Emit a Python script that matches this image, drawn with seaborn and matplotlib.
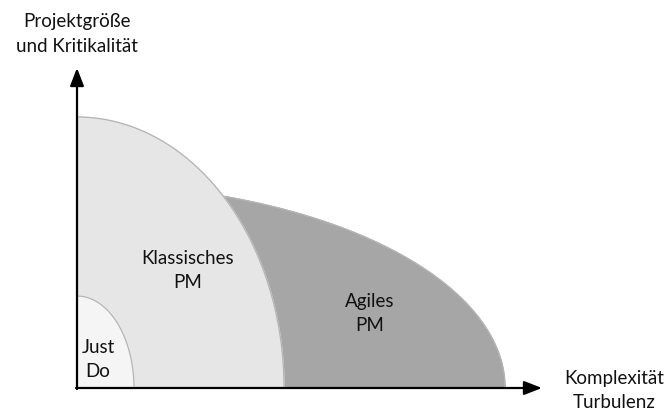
import numpy as np
import matplotlib.pyplot as plt
import seaborn as sns

# Bereiche (Viertel-Ellipsen), von groß nach klein gezeichnet
regions = ['Agiles\nPM', 'Klassisches\nPM', 'Just\nDo']
radius_x = [428, 207, 57]
radius_y = [204, 271, 92]
colors = ['#a6a6a6', '#e6e6e6', '#f5f5f5']
label_x = [293, 111, 21]
label_y = [75, 119, 29]

y_axis_label = 'Projektgröße\nund Kritikalität'
x_axis_label = 'Komplexität\nTurbulenz'

sns.set_theme(style='white')
plt.rcParams['font.family'] = ['Lato', 'DejaVu Sans']

fig = plt.figure(figsize=(6.68, 4.14), dpi=100)
ax = fig.add_axes([0, 0, 1, 1])
ax.set_xlim(-77, 591)
ax.set_ylim(-25, 389)
ax.axis('off')

t = np.linspace(0, np.pi / 2, 200)
for i, (name, rx, ry, c, lx, ly) in enumerate(zip(regions, radius_x, radius_y, colors, label_x, label_y)):
    xs = np.concatenate([[0], rx * np.cos(t), [0]])
    ys = np.concatenate([[0], ry * np.sin(t), [0]])
    ax.fill(xs, ys, color=c, zorder=1 + 2 * i)
    sns.lineplot(x=rx * np.cos(t), y=ry * np.sin(t), sort=False, color='#b4b4b4',
                 linewidth=0.9, ax=ax, zorder=2 + 2 * i)
    ax.text(lx, ly, name, ha='center', va='center', fontsize=13.5,
            color='#111111', linespacing=1.5, zorder=10)

# Achsen mit Pfeilen
arrow = dict(arrowstyle='-|>,head_length=0.9,head_width=0.35', color='black',
             linewidth=1.6, shrinkA=0, shrinkB=0)
ax.annotate('', xy=(465, 0), xytext=(-1, 0), arrowprops=arrow, zorder=11)
ax.annotate('', xy=(0, 320), xytext=(0, -1), arrowprops=arrow, zorder=11)

ax.text(0, 355, y_axis_label, ha='center', va='center', fontsize=13.5,
        color='#111111', linespacing=1.5)
ax.text(537, -2, x_axis_label, ha='center', va='center', fontsize=13.5,
        color='#111111', linespacing=1.5)

fig.savefig('out.png', dpi=100)
